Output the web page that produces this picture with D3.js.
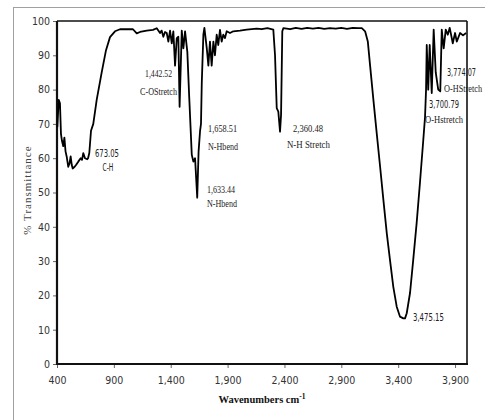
<!DOCTYPE html>
<html><head><meta charset="utf-8">
<script src="https://cdn.jsdelivr.net/npm/d3@7"></script>
<style>
body{margin:0;background:#fff;}
svg{display:block;}
</style></head>
<body>
<svg id="c" width="485" height="420"></svg>
<script>
const wavenumbers = [403,415,426,435,444,455,465,475,485,499,510,520,530,538,555,567,587,608,620,631,646,666,673,684,699,719,749,793,831,866,910,954,1013,1068,1101,1130,1189,1244,1277,1306,1320,1335,1350,1365,1379,1394,1409,1423,1438,1453,1467,1478,1497,1511,1526,1546,1563,1585,1599,1614,1633,1645,1658,1666,1673,1687,1696,1717,1731,1745,1760,1775,1789,1804,1818,1833,1848,1862,1877,1892,1921,1950,2009,2068,2156,2200,2250,2302,2317,2332,2346,2361,2370,2381,2390,2450,2500,2550,2600,2650,2700,2750,2800,2850,2900,2950,3000,3050,3080,3109,3133,3153,3182,3212,3241,3270,3300,3328,3357,3387,3416,3445,3460,3475,3504,3532,3562,3591,3620,3636,3645,3651,3664,3677,3695,3712,3730,3752,3770,3783,3800,3818,3836,3853,3880,3900,3915,3944,3970,3997];
const transmittance = [69,77,76,67,65,63.5,66,62,60.5,57.5,58.5,60.5,58,57,57.5,58,59,60,59.5,61.5,60,59.7,60,61.5,68,70,77,85,91.5,95.3,97,97.6,97.6,97.6,96.4,96.8,97.2,97.4,97.9,96.5,97.2,95.4,96.8,96.5,94,97.2,93.5,97,87,95,95.4,75,97.2,92,97,91,77.5,61,59,60,48.5,62,68,70,82,96,98,92,87,94,87,94,90,96,93,97.4,94,96,95,97,96.5,97,97.2,97.5,97.8,97.6,97.9,97.5,90,74.6,73.6,67.7,72.6,97,97.9,97.6,98,97.7,98,97.8,98,97.7,97.9,97.8,98,97.7,98,97.9,97.9,97,94,87,77,67,57.5,47.8,38,30.3,22.5,16.7,13.8,13.3,13.3,14.8,20.7,30.3,41,52.7,65,72,80,93,80,93,79,97.5,85,80,79.5,97.5,92,97.5,96,98,93.5,96.5,94,96.5,95.8,96.5];
const xTicks = [400,900,1400,1900,2400,2900,3400,3900];
const yTicks = [0,10,20,30,40,50,60,70,80,90,100];
// label texts with their anchor positions in data units (wavenumber, %T)
const labelTexts = ["673.05","C-H","1,442.52","C-OStretch","1,658.51","N-Hbend","1,633.44","N-Hbend","2,360.48","N-H  Stretch","3,475.15","3,700.79","O-Hstretch","3,774.07","O-HStretch"];
const labelWn    = [734,848,1174,1130,1728,1728,1719,1719,2475,2422,3530,3671,3636,3829,3803];
const labelT     = [60.3,56.3,83.7,78.4,67.6,62.4,49.9,45.8,67.6,63,12.5,74.6,70.3,84,79.3];
const labelSans  = [1,1,0,0,0,0,0,0,0,0,1,1,0,1,0];
const labelMid   = [0,1,0,0,0,0,0,0,0,0,0,0,0,0,0];
// rendered widths (px) of the labels
const labelWidth = [24,11,27,37,29,30,28,30,30,43,31,30,38,29,38];

const svg = d3.select("#c");
const L=57, R=467, T=21, B=364;
const x = d3.scaleLinear().domain([400,4005]).range([L,R]);
const y = d3.scaleLinear().domain([0,100]).range([B,T]);

// outer frame
svg.append("rect").attr("x",13.5).attr("y",7.5).attr("width",490).attr("height",430)
  .attr("fill","none").attr("stroke","#a0a0a0").attr("stroke-width",1);

const tickFont = "'Liberation Sans Narrow','DejaVu Sans Condensed','Liberation Sans',sans-serif";
const serif = "'Liberation Serif','Times New Roman',serif";

// y axis
const ya = svg.append("g").attr("transform",`translate(${L},0)`)
  .call(d3.axisLeft(y).tickValues(yTicks).tickSize(4).tickPadding(3));
ya.select(".domain").remove();
ya.selectAll("line").attr("stroke","#666");
ya.selectAll("text").attr("font-family",tickFont).attr("font-size","10.5px").attr("fill","#333");

// x axis
const xa = svg.append("g").attr("transform",`translate(0,${B})`)
  .call(d3.axisBottom(x).tickValues(xTicks).tickFormat(d3.format(",")).tickSize(4).tickPadding(9));
xa.select(".domain").remove();
xa.selectAll("line").attr("stroke","#666");
xa.selectAll("text").attr("font-family",tickFont).attr("font-size","10.5px").attr("fill","#333");

// plot border
svg.append("line").attr("x1",L).attr("x2",R).attr("y1",T).attr("y2",T).attr("stroke","#111").attr("stroke-width",1.6);
svg.append("line").attr("x1",R).attr("x2",R).attr("y1",T).attr("y2",B).attr("stroke","#111").attr("stroke-width",1.6);
svg.append("line").attr("x1",L).attr("x2",L).attr("y1",T).attr("y2",B+1).attr("stroke","#111").attr("stroke-width",2.2);
svg.append("line").attr("x1",L-1).attr("x2",R+1).attr("y1",B).attr("y2",B).attr("stroke","#111").attr("stroke-width",2.2);

// spectrum
const data = wavenumbers.map((w,i)=>[w,transmittance[i]]);
svg.append("path").datum(data)
  .attr("d", d3.line().x(d=>x(d[0])).y(d=>y(d[1])))
  .attr("fill","none").attr("stroke","#000").attr("stroke-width",1.8).attr("stroke-linejoin","round");

// annotations
labelTexts.forEach((t,i)=>{
  svg.append("text").attr("x",x(labelWn[i])).attr("y",y(labelT[i]))
    .attr("text-anchor", labelMid[i] ? "middle" : "start")
    .attr("font-family", labelSans[i] ? tickFont : serif)
    .attr("font-size", "10.5px")
    .attr("textLength", labelWidth[i]).attr("lengthAdjust","spacingAndGlyphs")
    .attr("fill","#222").text(t);
});

// axis titles
svg.append("text").attr("transform",`translate(31,190) rotate(-90)`)
  .attr("text-anchor","middle").attr("font-family",serif).attr("font-size","11px")
  .attr("letter-spacing","1px").attr("fill","#444").text("% Transmittance");

const xt = svg.append("text").attr("x",262).attr("y",403).attr("text-anchor","middle")
  .attr("font-family",serif).attr("font-size","10.5px").attr("font-weight","bold").attr("fill","#111");
xt.append("tspan").text("Wavenumbers  cm");
xt.append("tspan").attr("dy",-4).attr("font-size","7.5px").text("-1");
</script>
</body></html>
